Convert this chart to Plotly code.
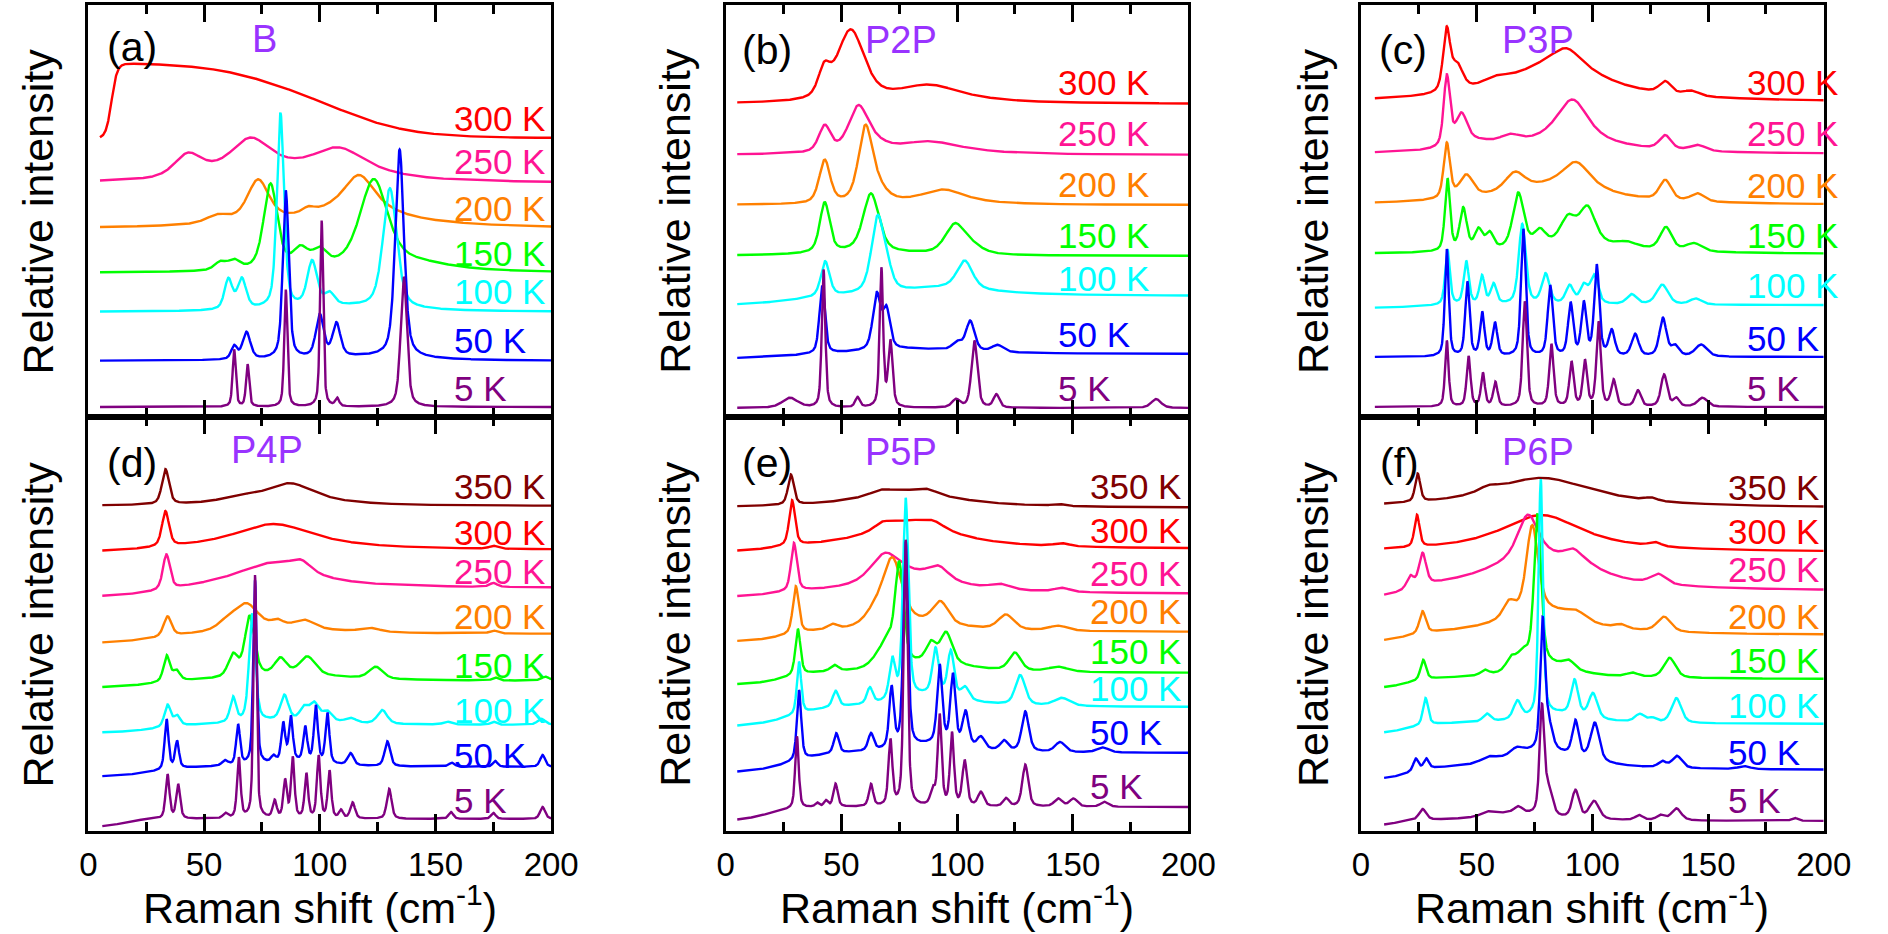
import numpy as np
import plotly.graph_objects as go

FONT = "Liberation Sans, Arial, Helvetica, sans-serif"
NAME_COLOR = "#9933FF"

TEMP_COLORS = {"350 K": "#800000", "300 K": "#FF0000", "250 K": "#FF1493", "200 K": "#FF8000",
               "150 K": "#00FF00", "100 K": "#00FFFF", "50 K": "#0000FF", "5 K": "#800080"}

X_TICKS = [0, 50, 100, 150, 200]
X_MINOR = [25, 75, 125, 175]

# ---------------- panel (a) B ----------------
PANEL_A_TEMPS = ["300 K", "250 K", "200 K", "150 K", "100 K", "50 K", "5 K"]
PANEL_A_XSTART = 5
PANEL_A_BASE = [279, 234, 188, 144, 105, 56, 10]
PANEL_A_PEAKS = [
    [],
    [(43, 22, 7), (70, 40, 12), (108, 32, 16)],
    [(56, 8, 6), (73.3, 41, 5.5), (95, 5, 3), (117, 42, 9), (110, 12, 40)],
    [(57, 8, 3), (63, 9, 3), (78.7, 85, 3.5), (91.7, 18, 4), (100, 15, 3.5), (123.3, 85, 7), (140, 8, 20), (115, 4, 30)],
    [(60.5, 30, 2), (66.3, 30, 2.2), (83, 195, 1.8), (96.7, 45, 2.5), (104.2, 12, 2.5), (130.3, 120, 3.5), (110, 5, 30)],
    [(63, 13, 1.5), (68.3, 27, 2), (85.3, 168, 1.5), (100, 42, 2), (107.2, 33, 2), (134.5, 208, 2.2), (120, 4, 30)],
    [(63, 57, 0.8), (68.8, 42, 0.8), (85.3, 117, 0.8), (100.8, 186, 0.8), (107.5, 8, 1), (136.3, 130, 1.6)],
]
PANEL_A_EDGES = [[(75, 25, 15), (110, 50, 16), (10, -75, 1.2)], [], [], [], [], [], []]
PANEL_A_LABEL_X = 157.2
PANEL_A_LABEL_Y = [298.7, 255.3, 208.7, 163.7, 125.3, 76.3, 28.7]

# ---------------- panel (b) P2P ----------------
PANEL_B_TEMPS = ["300 K", "250 K", "200 K", "150 K", "100 K", "50 K", "5 K"]
PANEL_B_XSTART = 5
PANEL_B_BASE = [313, 262, 212, 161, 121, 63, 9]
PANEL_B_PEAKS = [
    [(42.5, 25, 3), (54, 70, 7), (88, 18, 18)],
    [(42.8, 26, 3), (57.3, 44, 5), (65, 6, 6), (88, 13, 18)],
    [(42.8, 43, 2.8), (60.3, 70, 3.5), (65, 15, 5), (94, 15, 12)],
    [(42.8, 50, 2.5), (62.8, 58, 4), (99, 28, 5), (106, 8, 6), (60, 4, 25)],
    [(43, 35, 2.2), (65.7, 75, 3.2), (70, 15, 2.5), (103.3, 28, 4), (95, 8, 25)],
    [(41.7, 68, 1.4), (65.3, 55, 2), (69.5, 38, 1.8), (100, 8, 2.5), (105.7, 30, 2.2), (117.5, 7, 3), (80, 5, 25)],
    [(27.8, 10, 4), (42.3, 138, 0.9), (57, 10, 1.2), (67.3, 138, 0.9), (71.2, 65, 1.1), (99.5, 8, 2),
     (107.5, 67, 1.5), (117, 13, 1.5), (186, 9, 2.5)],
]
PANEL_B_EDGES = [[], [], [], [], [(30, -10, 12)], [(30, -5, 12)], []]
PANEL_B_LABEL_X = 142.8
PANEL_B_LABEL_Y = [334.7, 283.7, 233, 181.3, 138.7, 83, 28.7]

# ---------------- panel (c) P3P ----------------
PANEL_C_TEMPS = ["300 K", "250 K", "200 K", "150 K", "100 K", "50 K", "5 K"]
PANEL_C_XSTART = 6
PANEL_C_BASE = [315, 263, 212, 163, 112, 60, 10]
PANEL_C_PEAKS = [
    [(37, 60, 1.8), (41.5, 25, 3), (58, 8, 8), (85, 36, 25), (89, 18, 8), (131.5, 12, 3), (142.7, 5, 4)],
    [(37.1, 70, 1.6), (43.4, 30, 3), (50, 8, 10), (64.4, 8, 5), (90, 22, 20), (91.5, 32, 7), (131.5, 14, 3), (145.5, 6, 4)],
    [(37.1, 55, 1.6), (45.5, 22, 3.5), (66.5, 18, 5), (93, 30, 8), (80, 15, 30), (131.5, 20, 3), (145.5, 8, 3.5)],
    [(37.4, 72, 1.3), (44.2, 42, 1.8), (50.8, 20, 2), (55.6, 16, 2), (68, 55, 2.8), (77.3, 15, 3), (89.5, 25, 4),
     (97.9, 35, 4), (95, 10, 25), (115, 5, 5), (131.8, 23, 3), (143.9, 8, 4)],
    [(37.4, 55, 1.2), (45.5, 43, 1.3), (52.3, 28, 1.3), (57.3, 20, 1.5), (69.7, 80, 1.8), (79.8, 30, 2), (90.2, 18, 2),
     (96.3, 18, 2), (100.8, 28, 2), (117, 10, 2.5), (130.2, 20, 3), (144.7, 6, 3)],
    [(37.1, 107, 1.0), (46, 74, 1.1), (52.4, 43, 1.1), (57.9, 33, 1.2), (70.2, 127, 1.2), (81.8, 70, 1.3),
     (90.6, 52, 1.3), (96.3, 52, 1.3), (101.9, 90, 1.3), (108.4, 25, 1.5), (118.5, 22, 1.8), (130.5, 38, 1.8),
     (135.8, 10, 2), (147, 12, 3)],
    [(37.1, 66, 0.9), (46.5, 50, 1.0), (52.7, 33, 1.0), (58.1, 24, 1.1), (70.8, 105, 1.1), (82.3, 62, 1.1),
     (91, 44, 1.1), (96.8, 45, 1.1), (102.7, 84, 1.1), (109.2, 26, 1.3), (119.7, 16, 1.5), (131, 32, 1.6),
     (136.3, 8, 1.5), (147.6, 9, 2.5)],
]
PANEL_C_EDGES = [[], [], [], [], [(25, -3, 8)], [], []]
PANEL_C_LABEL_X = 166
PANEL_C_LABEL_Y = [334.7, 283.7, 232, 181.3, 132, 78.7, 28.7]

# ---------------- panel (d) P4P ----------------
PANEL_D_TEMPS = ["350 K", "300 K", "250 K", "200 K", "150 K", "100 K", "50 K", "5 K"]
PANEL_D_XSTART = 6
PANEL_D_BASE = [325, 281, 243, 197, 150, 106, 64, 12]
PANEL_D_PEAKS = [
    [(33.3, 35, 1.8), (65, 5, 10), (87, 22, 14)],
    [(33.3, 35, 1.8), (80, 26, 22), (175, 3, 2)],
    [(33.7, 35, 1.8), (80, 25, 20), (92, 10, 5), (175, 4, 2)],
    [(34.2, 20, 2), (60, 8, 5), (68.3, 25, 6), (81.7, 6, 3), (93.3, 8, 5), (121.7, 4, 5), (85, 6, 25), (175, 3, 2)],
    [(33.8, 26, 1.6), (38, 10, 1.8), (62.5, 22, 2.5), (69.7, 60, 2.5), (83, 16, 3), (94.7, 18, 4), (124.2, 12, 3.5),
     (90, 6, 25), (175.8, 3, 1.5), (197.5, 4, 2)],
    [(34.2, 22, 1.6), (38.3, 10, 1.6), (62.5, 25, 1.5), (70.8, 108, 1.6), (84.7, 25, 2), (93, 12, 2), (97.5, 18, 2.5),
     (103.3, 10, 2.5), (113.3, 5, 3), (127, 14, 2.5), (155, 3, 2), (175, 3, 1.5), (195.8, 6, 2), (85, 4, 20)],
    [(33.8, 50, 1.0), (38.3, 27, 1.0), (59, 5, 1.5), (64.7, 40, 1.0), (72, 184, 0.9), (80, 6, 1.2), (84.2, 38, 1.0),
     (87.5, 44, 1.0), (93.7, 34, 1.0), (98.3, 56, 1.0), (103.3, 50, 1.0), (113.3, 12, 1.5), (129.2, 25, 1.4),
     (157, 4, 1.5), (175.8, 6, 1.2), (196.3, 12, 1.3), (90, 5, 15)],
    [(34.2, 44, 1.0), (38.8, 34, 1.0), (59.2, 5, 1.2), (65, 60, 0.9), (72, 243, 0.8), (80.5, 17, 1.0), (85, 37, 0.9),
     (88.3, 60, 0.9), (94.2, 44, 0.9), (99.5, 62, 0.9), (104.2, 47, 0.9), (109.2, 8, 1.0), (114.2, 16, 1.2),
     (130, 30, 1.2), (156.7, 7, 1.2), (175, 6, 1.2), (196.3, 12, 1.3)],
]
PANEL_D_EDGES = [[], [(25, -3, 8)], [(35, -10, 10)], [(30, -10, 10)], [(28, -7, 8)], [(30, -8, 8)], [(28, -10, 8)],
                 [(15, -8, 4)]]
PANEL_D_LABEL_X = 157.2
PANEL_D_LABEL_Y = [344.3, 298.7, 259.3, 214.3, 166, 121, 76, 31]

# ---------------- panel (e) P5P ----------------
PANEL_E_TEMPS = ["350 K", "300 K", "250 K", "200 K", "150 K", "100 K", "50 K", "5 K"]
PANEL_E_XSTART = 5
PANEL_E_BASE = [323, 282, 237, 199, 158, 124, 78, 24]
PANEL_E_PEAKS = [
    [(28.2, 30, 1.5), (67, 4, 5), (87, 4, 5), (78, 17, 25), (143.7, 2, 3)],
    [(28.7, 45, 1.5), (67.8, 6, 4), (90, 5, 5), (80, 28, 22), (145.3, 3, 4)],
    [(29.5, 48, 1.5), (68.7, 25, 7), (92, 12, 5), (80, 20, 22), (118.7, 5, 5), (145.3, 4, 4)],
    [(30.3, 47, 1.5), (46.2, 5, 2.5), (64, 12, 5), (72, 66, 5), (92.8, 22, 4), (85, 8, 20), (121.2, 15, 4), (143.7, 5, 5)],
    [(31.2, 46, 1.3), (47, 6, 2), (66, 10, 4), (70, 20, 3), (75, 100, 2.2), (88.7, 18, 2.5), (95.3, 30, 3),
     (90, 10, 18), (125, 18, 3), (143.7, 5, 5)],
    [(31.7, 52, 1.1), (47.5, 16, 1.5), (62.3, 16, 1.5), (72, 40, 1.5), (77.8, 200, 1.4), (90.7, 45, 1.6),
     (97.3, 45, 1.6), (103.5, 12, 2), (90, 12, 15), (127.3, 30, 2.5), (145.3, 8, 4)],
    [(31.7, 70, 1.1), (47.8, 20, 1.3), (62.8, 17, 1.4), (71.7, 60, 1.2), (77.8, 205, 1.2), (92.5, 78, 1.3),
     (98.2, 70, 1.3), (103.7, 35, 1.6), (110.3, 12, 2), (120.3, 10, 2), (129.5, 40, 1.8), (144.5, 10, 2.5),
     (163, 5, 3), (90, 8, 15)],
    [(30.8, 72, 0.9), (39.5, 4, 1), (43.3, 6, 1), (47.5, 23, 1.1), (62.8, 22, 1.1), (71.2, 65, 1.0), (77.8, 266, 1.0),
     (89.5, 15, 1.2), (92.5, 90, 1.0), (97.8, 72, 1.0), (103.3, 45, 1.2), (110.3, 14, 1.5), (121.2, 8, 1.5),
     (129.5, 42, 1.5), (143.7, 8, 2), (150.3, 8, 2), (163.7, 5, 2)],
]
PANEL_E_EDGES = [[], [(20, -4, 5)], [(20, -4, 5)], [(25, -10, 6)], [(25, -12, 6)], [(28, -20, 8)], [(28, -20, 8)],
                 [(18, -14, 6)]]
PANEL_E_LABEL_X = 156.7
PANEL_E_LABEL_Y = [344.3, 301, 257.7, 219.3, 179.3, 142.7, 98.3, 44.3]

# ---------------- panel (f) P6P ----------------
PANEL_F_TEMPS = ["350 K", "300 K", "250 K", "200 K", "150 K", "100 K", "50 K", "5 K"]
PANEL_F_XSTART = 10
PANEL_F_BASE = [323, 279, 240, 196, 152, 107, 61, 10]
PANEL_F_PEAKS = [
    [(24.5, 28, 1.3), (55, 5, 5), (78, 30, 28), (125.3, 3, 3)],
    [(24.2, 32, 1.3), (78, 37, 22), (127, 4, 3)],
    [(21.3, 12, 1.8), (26.6, 32, 1.8), (72.1, 40, 5), (75, 35, 25), (95, 10, 10), (91.5, 8, 4), (128.5, 10, 4)],
    [(26.6, 22, 1.6), (64, 15, 3), (74, 85, 3), (78, 25, 20), (93, 8, 5), (112.4, 4, 3), (131, 15, 3.5)],
    [(26.9, 20, 1.4), (53.5, 5, 2), (64.8, 12, 2.5), (70, 15, 3), (76.3, 150, 1.8), (80, 14, 15), (89.8, 8, 3),
     (117.3, 4, 3), (133.4, 20, 3)],
    [(27.9, 27, 1.3), (54.4, 8, 2), (67.6, 18, 2), (77.7, 236, 1.1), (85, 10, 15), (92.3, 35, 1.8), (100.3, 25, 2.2),
     (120.5, 8, 2.5), (126, 4, 2), (136.3, 25, 2.5)],
    [(23.7, 12, 1.3), (28.2, 10, 1.3), (55, 5, 4), (67.3, 6, 3), (70, 10, 15), (78.5, 125, 1.2), (81, 25, 2),
     (85, 12, 18), (92.7, 35, 1.6), (101.1, 38, 2.2), (130.2, 6, 2), (136.6, 12, 2.5), (165.6, 3, 3)],
    [(26.6, 11, 1.8), (54.4, 4, 3), (65, 8, 15), (68, 6, 2), (78.2, 105, 1.2), (81, 25, 2), (92.7, 28, 1.8),
     (100.8, 18, 2.5), (120.2, 5, 2), (129.4, 5, 2), (136.3, 12, 2.5), (187.4, 3, 1.5)],
]
PANEL_F_EDGES = [[], [], [(20, -10, 5)], [(20, -8, 5)], [(20, -10, 5)], [(20, -10, 5)], [(20, -10, 4)],
                 [(15, -5, 3)]]
PANEL_F_LABEL_X = 157.9
PANEL_F_LABEL_Y = [343.7, 299.3, 262, 215, 171, 126, 78.7, 31]

PANEL_TAGS = ["(a)", "(b)", "(c)", "(d)", "(e)", "(f)"]
PANEL_TAG_X = [7.0, 6.0, 7.0, 7.0, 6.0, 7.5]
PANEL_TAG_Y = [369.7, 367, 367, 367.7, 367.7, 367.7]
PANEL_NAMES = ["B", "P2P", "P3P", "P4P", "P5P", "P6P"]
PANEL_NAME_X = [76, 75.8, 76.3, 77, 75.6, 76.3]
PANEL_NAME_Y = [378, 377, 377, 381, 379, 379]

X_TITLE = "Raman shift (cm<sup>-1</sup>)"
Y_TITLE = "Relative intensity"

# ---------------- layout geometry (pixels of 1888x934 page) ----------------
W, H = 1888, 934
COL_PX = [(81, 553), (731, 1203), (1379, 1851)]
ROW_PX = [(5, 417), (417, 831)]
Y_RANGES = [412, 414]


def line_shape(x, peaks, edges, base):
    y = np.full_like(x, float(base))
    for c, h, w in peaks:
        u = ((x - c) / w) ** 2
        lor = 1.0 / (1.0 + u)
        if w >= 8:
            y += h * lor
        else:
            y += h * (0.5 * lor + 0.5 * np.exp(-np.log(2.0) * u))
    for c, a, w in edges:
        y += a / (1.0 + np.exp(np.clip((x - c) / w, -60, 60)))
    return y


panels = [
    (PANEL_A_TEMPS, PANEL_A_XSTART, PANEL_A_BASE, PANEL_A_PEAKS, PANEL_A_EDGES, PANEL_A_LABEL_X, PANEL_A_LABEL_Y),
    (PANEL_B_TEMPS, PANEL_B_XSTART, PANEL_B_BASE, PANEL_B_PEAKS, PANEL_B_EDGES, PANEL_B_LABEL_X, PANEL_B_LABEL_Y),
    (PANEL_C_TEMPS, PANEL_C_XSTART, PANEL_C_BASE, PANEL_C_PEAKS, PANEL_C_EDGES, PANEL_C_LABEL_X, PANEL_C_LABEL_Y),
    (PANEL_D_TEMPS, PANEL_D_XSTART, PANEL_D_BASE, PANEL_D_PEAKS, PANEL_D_EDGES, PANEL_D_LABEL_X, PANEL_D_LABEL_Y),
    (PANEL_E_TEMPS, PANEL_E_XSTART, PANEL_E_BASE, PANEL_E_PEAKS, PANEL_E_EDGES, PANEL_E_LABEL_X, PANEL_E_LABEL_Y),
    (PANEL_F_TEMPS, PANEL_F_XSTART, PANEL_F_BASE, PANEL_F_PEAKS, PANEL_F_EDGES, PANEL_F_LABEL_X, PANEL_F_LABEL_Y),
]

fig = go.Figure()
annotations = []
layout_axes = {}

for i, (temps, xstart, bases, peaks, edges, lx, lys) in enumerate(panels):
    row, col = divmod(i, 3)
    n = i + 1
    xa = "x" if n == 1 else f"x{n}"
    ya = "y" if n == 1 else f"y{n}"
    x = np.arange(xstart, 200.0001, 0.1)
    for t, b, pk, ed in zip(temps, bases, peaks, edges):
        fig.add_trace(go.Scatter(x=x, y=line_shape(x, pk, ed, b), mode="lines",
                                 line=dict(color=TEMP_COLORS[t], width=2.4),
                                 xaxis=xa, yaxis=ya, showlegend=False, hoverinfo="skip"))
    for t, ly in zip(temps, lys):
        annotations.append(dict(x=lx, y=ly, xref=xa, yref=ya, text=t, showarrow=False,
                                xanchor="left", yanchor="middle",
                                font=dict(family=FONT, size=35, color=TEMP_COLORS[t])))
    annotations.append(dict(x=PANEL_TAG_X[i], y=PANEL_TAG_Y[i], xref=xa, yref=ya, text=PANEL_TAGS[i],
                            showarrow=False, xanchor="left", yanchor="middle",
                            font=dict(family=FONT, size=41, color="black")))
    annotations.append(dict(x=PANEL_NAME_X[i], y=PANEL_NAME_Y[i], xref=xa, yref=ya, text=PANEL_NAMES[i],
                            showarrow=False, xanchor="center", yanchor="middle",
                            font=dict(family=FONT, size=38, color=NAME_COLOR)))

    x0, x1 = COL_PX[col]
    y0, y1 = ROW_PX[row]
    xkey = "xaxis" if n == 1 else f"xaxis{n}"
    ykey = "yaxis" if n == 1 else f"yaxis{n}"
    layout_axes[xkey] = dict(
        domain=[x0 / W, x1 / W], anchor=ya, range=[0, 200], showgrid=False, zeroline=False,
        showline=True, linewidth=3, linecolor="black", mirror="ticks",
        ticks="inside", ticklen=17, tickwidth=3, tickcolor="black",
        tickmode="array", tickvals=X_TICKS, ticktext=[str(v) for v in X_TICKS],
        showticklabels=(row == 1), ticklabelstandoff=2,
        tickfont=dict(family=FONT, size=33, color="black"),
        minor=dict(ticks="inside", ticklen=9, tickwidth=3, tickcolor="black", tickmode="array", tickvals=X_MINOR),
    )
    layout_axes[ykey] = dict(
        domain=[1 - y1 / H, 1 - y0 / H], anchor=xa, range=[0, Y_RANGES[row]], showgrid=False, zeroline=False,
        showline=True, linewidth=3, linecolor="black", mirror=True, ticks="", showticklabels=False,
    )

Y_TITLE_X = [30, 679, 1330]
X_TITLE_X = [317, 967, 1615]
for col in range(3):
    for row in range(2):
        y0, y1 = ROW_PX[row]
        annotations.append(dict(x=Y_TITLE_X[col] / W, y=1 - (y0 + y1) / 2 / H, xref="paper", yref="paper",
                                text=Y_TITLE, textangle=-90, showarrow=False, xanchor="center", yanchor="middle",
                                font=dict(family=FONT, size=43, color="black")))
    annotations.append(dict(x=X_TITLE_X[col] / W, y=1 - 905 / H, xref="paper", yref="paper",
                            text=X_TITLE, showarrow=False, xanchor="center", yanchor="middle",
                            font=dict(family=FONT, size=43, color="black")))

fig.update_layout(width=W, height=H, margin=dict(l=0, r=0, t=0, b=0), paper_bgcolor="white",
                  plot_bgcolor="white", showlegend=False, annotations=annotations, **layout_axes)

fig.write_html("out.html")
